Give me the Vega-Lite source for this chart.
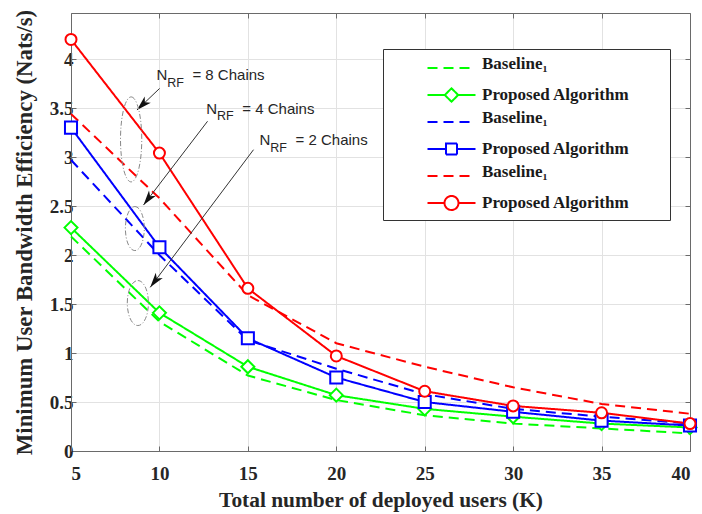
{
  "$schema": "https://vega.github.io/schema/vega-lite/v6.json",
  "width": 619,
  "height": 438,
  "autosize": {"type": "none"},
  "padding": {"left": 71, "top": 13, "right": 12, "bottom": 63},
  "background": "white",
  "config": {
    "view": {"stroke": null},
    "axis": {
      "labelFont": "Liberation Serif",
      "labelFontWeight": "bold",
      "labelFontSize": 19,
      "labelColor": "#262626",
      "titleFont": "Liberation Serif",
      "titleFontWeight": "bold",
      "titleColor": "#262626",
      "domainColor": "#6a6a6a",
      "tickColor": "#6a6a6a",
      "gridColor": "#e2e2e2",
      "tickSize": -5
    }
  },
  "datasets": {
    "curves": [
      {"K": 5, "value": 2.19, "series": "g_base"},
      {"K": 10, "value": 1.32, "series": "g_base"},
      {"K": 15, "value": 0.77, "series": "g_base"},
      {"K": 20, "value": 0.52, "series": "g_base"},
      {"K": 25, "value": 0.365, "series": "g_base"},
      {"K": 30, "value": 0.28, "series": "g_base"},
      {"K": 35, "value": 0.23, "series": "g_base"},
      {"K": 40, "value": 0.18, "series": "g_base"},
      {"K": 5, "value": 2.28, "series": "g_prop"},
      {"K": 10, "value": 1.41, "series": "g_prop"},
      {"K": 15, "value": 0.86, "series": "g_prop"},
      {"K": 20, "value": 0.57, "series": "g_prop"},
      {"K": 25, "value": 0.43, "series": "g_prop"},
      {"K": 30, "value": 0.35, "series": "g_prop"},
      {"K": 35, "value": 0.28, "series": "g_prop"},
      {"K": 40, "value": 0.24, "series": "g_prop"},
      {"K": 5, "value": 2.97, "series": "b_base"},
      {"K": 10, "value": 2.0, "series": "b_base"},
      {"K": 15, "value": 1.13, "series": "b_base"},
      {"K": 20, "value": 0.84, "series": "b_base"},
      {"K": 25, "value": 0.58, "series": "b_base"},
      {"K": 30, "value": 0.43, "series": "b_base"},
      {"K": 35, "value": 0.35, "series": "b_base"},
      {"K": 40, "value": 0.28, "series": "b_base"},
      {"K": 5, "value": 3.3, "series": "b_prop"},
      {"K": 10, "value": 2.08, "series": "b_prop"},
      {"K": 15, "value": 1.15, "series": "b_prop"},
      {"K": 20, "value": 0.75, "series": "b_prop"},
      {"K": 25, "value": 0.5, "series": "b_prop"},
      {"K": 30, "value": 0.4, "series": "b_prop"},
      {"K": 35, "value": 0.31, "series": "b_prop"},
      {"K": 40, "value": 0.26, "series": "b_prop"},
      {"K": 5, "value": 3.44, "series": "r_base"},
      {"K": 10, "value": 2.58, "series": "r_base"},
      {"K": 15, "value": 1.59, "series": "r_base"},
      {"K": 20, "value": 1.1, "series": "r_base"},
      {"K": 25, "value": 0.86, "series": "r_base"},
      {"K": 30, "value": 0.65, "series": "r_base"},
      {"K": 35, "value": 0.48, "series": "r_base"},
      {"K": 40, "value": 0.38, "series": "r_base"},
      {"K": 5, "value": 4.2, "series": "r_prop"},
      {"K": 10, "value": 3.04, "series": "r_prop"},
      {"K": 15, "value": 1.66, "series": "r_prop"},
      {"K": 20, "value": 0.97, "series": "r_prop"},
      {"K": 25, "value": 0.61, "series": "r_prop"},
      {"K": 30, "value": 0.46, "series": "r_prop"},
      {"K": 35, "value": 0.39, "series": "r_prop"},
      {"K": 40, "value": 0.28, "series": "r_prop"}
    ],
    "ellipses": [
      {"id": "8", "ex": 8.4, "ey": 3.18},
      {"id": "4", "ex": 8.61, "ey": 2.27},
      {"id": "2", "ex": 8.78, "ey": 1.51}
    ],
    "arrows": [
      {"id": "8", "x1": 10.01, "y1": 3.7, "x2": 8.73, "y2": 3.48},
      {"id": "4", "x1": 12.72, "y1": 3.365, "x2": 9.1, "y2": 2.51},
      {"id": "2", "x1": 15.32, "y1": 3.075, "x2": 9.48, "y2": 1.67}
    ],
    "labels": [
      {"id": "8", "lx": 9.83, "ly": 3.783, "rest": "= 8 Chains"},
      {"id": "4", "lx": 12.65, "ly": 3.443, "rest": "= 4 Chains"},
      {"id": "2", "lx": 15.66, "ly": 3.119, "rest": "= 2 Chains"}
    ]
  },
  "layer": [
    {
      "layer": [
        {
          "data": {"name": "curves"},
          "mark": {"type": "line", "strokeWidth": 2},
          "encoding": {
            "x": {
              "field": "K", "type": "quantitative",
              "scale": {"domain": [5, 40], "nice": false, "zero": false},
              "axis": {"title": "Total number of deployed users (K)", "titleFontSize": 21.4, "values": [5, 10, 15, 20, 25, 30, 35, 40], "grid": true, "labelPadding": 18, "titleBaseline": "middle", "titleY": 49}
            },
            "y": {
              "field": "value", "type": "quantitative",
              "scale": {"domain": [0, 4.47], "nice": false},
              "axis": {"title": "Minimum User Bandwidth Efficiency (Nats/s)", "titleFontSize": 22.8, "values": [0, 0.5, 1, 1.5, 2, 2.5, 3, 3.5, 4], "format": "~g", "grid": true, "labelPadding": 3, "titleBaseline": "middle", "titleX": -47}
            },
            "color": {
              "field": "series", "type": "nominal",
              "scale": {"domain": ["g_base", "g_prop", "b_base", "b_prop", "r_base", "r_prop"], "range": ["#00ff00", "#00ff00", "#0000ff", "#0000ff", "#ff0000", "#ff0000"]},
              "legend": {
                "orient": "none", "legendX": 312, "legendY": 36,
                "title": " ", "titleOrient": "right", "titlePadding": 35,
                "padding": 6, "strokeColor": "#333333", "fillColor": "white",
                "gridAlign": "all",
                "labelFont": "Liberation Serif", "labelFontWeight": "bold", "labelFontSize": 17, "labelColor": "#1a1a1a",
                "labelExpr": "indexof(datum.value,'base')>=0 ? 'Baseline₁' : 'Proposed Algorithm'",
                "symbolSize": 100, "symbolOffset": 54, "rowPadding": 2, "labelOffset": 22, "labelLimit": 0,
                "encode": {
                  "symbols": {"update": {
                    "shape": {"signal": "datum.value == 'g_prop' ? 'M-4.8,0L-1.34,0M1.34,0L4.8,0M0,-1.34L1.34,0L0,1.34L-1.34,0Z' : datum.value == 'b_prop' ? 'M-4.8,0L-1.1,0M1.1,0L4.8,0M-1.1,-1.1L1.1,-1.1L1.1,1.1L-1.1,1.1Z' : datum.value == 'r_prop' ? 'M-4.8,0L-1.4,0M1.4,0L4.8,0M-1.4,0A1.4,1.4 0 1,1 1.4,0A1.4,1.4 0 1,1 -1.4,0Z' : 'M-4.8,0L4.8,0'"},
                    "strokeDash": {"signal": "indexof(datum.value,'base')>=0 ? [10,6] : [1,0]"},
                    "y": {"value": 13},
                    "fill": {"value": "white"},
                    "strokeWidth": {"value": 2}
                  }},
                  "labels": {"update": {"dy": {"signal": "indexof(datum.value,'base')>=0 ? 0 : 4.5"}}}
                }
              }
            },
            "strokeDash": {
              "field": "series", "type": "nominal",
              "scale": {"domain": ["g_base", "g_prop", "b_base", "b_prop", "r_base", "r_prop"], "range": [[10, 6], [1, 0], [10, 6], [1, 0], [10, 6], [1, 0]]},
              "legend": null
            }
          }
        },
        {
          "data": {"name": "curves"},
          "transform": [{"filter": "indexof(datum.series,'prop')>=0"}],
          "mark": {"type": "point", "filled": true, "fill": "white", "strokeWidth": 2, "opacity": 1},
          "encoding": {
            "x": {"field": "K", "type": "quantitative"},
            "y": {"field": "value", "type": "quantitative"},
            "stroke": {"field": "series", "type": "nominal", "scale": {"domain": ["g_prop", "b_prop", "r_prop"], "range": ["#00ff00", "#0000ff", "#ff0000"]}, "legend": null},
            "shape": {"field": "series", "type": "nominal", "scale": {"domain": ["g_prop", "b_prop", "r_prop"], "range": ["diamond", "square", "circle"]}, "legend": null},
            "size": {"field": "series", "type": "ordinal", "scale": {"domain": ["g_prop", "b_prop", "r_prop"], "range": [170, 121, 180]}, "legend": null}
          }
        },
        {
          "data": {"name": "arrows"},
          "mark": {"type": "rule", "color": "#333333", "strokeWidth": 1},
          "encoding": {
            "x": {"field": "x1", "type": "quantitative"},
            "y": {"field": "y1", "type": "quantitative"},
            "x2": {"field": "x2"},
            "y2": {"field": "y2"}
          }
        },
        {
          "data": {"name": "arrows"},
          "transform": [{"filter": "datum.id == '8'"}],
          "mark": {"type": "point", "shape": "M0,0L-0.5,1.7L0,1.25L0.5,1.7Z", "size": 310, "angle": 226, "filled": true, "color": "#111111", "opacity": 1},
          "encoding": {
            "x": {"field": "x2", "type": "quantitative"},
            "y": {"field": "y2", "type": "quantitative"}
          }
        },
        {
          "data": {"name": "arrows"},
          "transform": [{"filter": "datum.id == '4'"}],
          "mark": {"type": "point", "shape": "M0,0L-0.5,1.7L0,1.25L0.5,1.7Z", "size": 310, "angle": 217, "filled": true, "color": "#111111", "opacity": 1},
          "encoding": {
            "x": {"field": "x2", "type": "quantitative"},
            "y": {"field": "y2", "type": "quantitative"}
          }
        },
        {
          "data": {"name": "arrows"},
          "transform": [{"filter": "datum.id == '2'"}],
          "mark": {"type": "point", "shape": "M0,0L-0.5,1.7L0,1.25L0.5,1.7Z", "size": 310, "angle": 217, "filled": true, "color": "#111111", "opacity": 1},
          "encoding": {
            "x": {"field": "x2", "type": "quantitative"},
            "y": {"field": "y2", "type": "quantitative"}
          }
        },
        {
          "data": {"name": "labels"},
          "mark": {"type": "text", "text": "N", "align": "left", "baseline": "alphabetic", "font": "Liberation Sans", "fontSize": 15, "color": "#262626"},
          "encoding": {
            "x": {"field": "lx", "type": "quantitative"},
            "y": {"field": "ly", "type": "quantitative"}
          }
        },
        {
          "data": {"name": "labels"},
          "mark": {"type": "text", "text": "RF", "align": "left", "baseline": "alphabetic", "font": "Liberation Sans", "fontSize": 12.5, "dx": 10.8, "dy": 6.6, "color": "#262626"},
          "encoding": {
            "x": {"field": "lx", "type": "quantitative"},
            "y": {"field": "ly", "type": "quantitative"}
          }
        },
        {
          "data": {"name": "labels"},
          "mark": {"type": "text", "align": "left", "baseline": "alphabetic", "font": "Liberation Sans", "fontSize": 15, "dx": 36, "color": "#262626"},
          "encoding": {
            "x": {"field": "lx", "type": "quantitative"},
            "y": {"field": "ly", "type": "quantitative"},
            "text": {"field": "rest"}
          }
        },
        {
          "data": {"name": "ellipses"},
          "transform": [{"filter": "datum.id == '4'"}],
          "mark": {"type": "point", "shape": "M0,-1A0.43,1 0 1,1 0,1A0.43,1 0 1,1 0,-1Z", "size": 1936, "filled": false, "color": "#888888", "strokeWidth": 1, "strokeDash": [5, 2, 1, 2], "opacity": 1},
          "encoding": {
            "x": {"field": "ex", "type": "quantitative"},
            "y": {"field": "ey", "type": "quantitative"}
          }
        },
        {
          "data": {"name": "ellipses"},
          "transform": [{"filter": "datum.id == '2'"}],
          "mark": {"type": "point", "shape": "M0,-1A0.47,1 0 1,1 0,1A0.47,1 0 1,1 0,-1Z", "size": 2025, "filled": false, "color": "#888888", "strokeWidth": 1, "strokeDash": [5, 2, 1, 2], "opacity": 1},
          "encoding": {
            "x": {"field": "ex", "type": "quantitative"},
            "y": {"field": "ey", "type": "quantitative"}
          }
        }
      ]
    },
    {
      "data": {"name": "ellipses"},
      "transform": [{"filter": "datum.id == '8'"}],
      "mark": {"type": "point", "shape": "M0,-1A0.25,1 0 1,1 0,1A0.25,1 0 1,1 0,-1Z", "size": 7225, "filled": false, "color": "#888888", "strokeWidth": 1, "strokeDash": [5, 2, 1, 2], "opacity": 1},
      "encoding": {
        "x": {"field": "ex", "type": "quantitative", "axis": {"orient": "top", "labels": false, "grid": false, "title": null, "values": [5, 10, 15, 20, 25, 30, 35, 40]}},
        "y": {"field": "ey", "type": "quantitative", "axis": {"orient": "right", "labels": false, "grid": false, "title": null, "values": [0, 0.5, 1, 1.5, 2, 2.5, 3, 3.5, 4]}}
      }
    }
  ],
  "resolve": {"axis": {"x": "independent", "y": "independent"}}
}
